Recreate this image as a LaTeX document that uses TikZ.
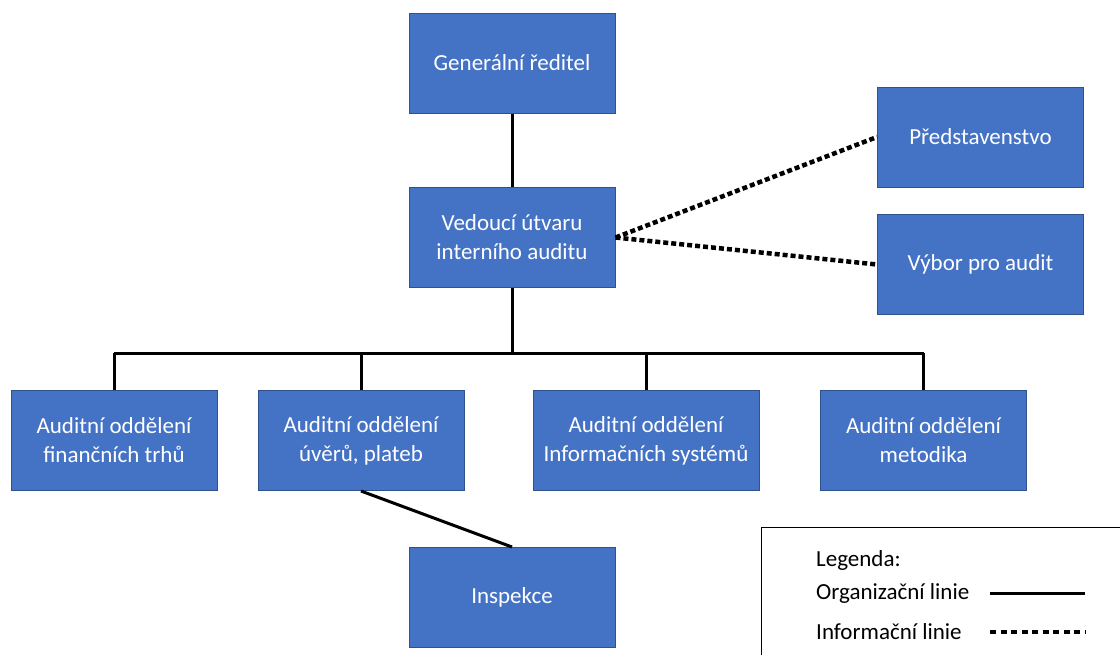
\documentclass[tikz,border=0pt]{standalone}
\usepackage{fontspec}
\setmainfont{Carlito}
\usepackage{xcolor}
\usetikzlibrary{positioning,calc}
\definecolor{boxblue}{HTML}{4472C4}
\definecolor{boxedge}{HTML}{2F528F}
\tikzset{
    unit box/.style={
        draw=boxedge,
        fill=boxblue,
        line width=1pt,
        text=white,
        align=center,
        inner sep=0pt,
        minimum height=100pt,
        minimum width =206pt,
        font=\fontsize{23}{29}\selectfont
    },
    org line/.style={
        line width=3pt
    },
    info line/.style={
        line width=4.5pt,
        dash pattern=on 5pt off 3pt
    },
    legend text/.style={
        anchor=west,
        inner sep=0pt,
        font=\fontsize{23}{27}\selectfont
    }
}
\begin{document}
\begin{tikzpicture}[x=1pt,y=-1pt]
          \useasboundingbox (0,0) rectangle (1120,654);
          \node[unit box] (gr) at (512,63) {Generální ředitel};
          \node[unit box] (vua) at (512,237.5) {Vedoucí útvaru\\interního auditu};
          \node[unit box] (pred) at (980.5,137) {Představenstvo};
          \node[unit box] (vyb) at (980.5,264.5) {Výbor pro audit};
          \node[unit box] (afin) at (114,440.5) {Auditní oddělení\\finančních trhů};
          \node[unit box] (auver) at (361,440.5) {Auditní oddělení\\úvěrů, plateb};
          \node[unit box, minimum width=226pt] (ais) at (646,440.5) {Auditní oddělení\\Informačních systémů};
          \node[unit box] (amet) at (923.5,440.5) {Auditní oddělení\\metodika};
          \node[unit box] (insp) at (512,597.5) {Inspekce};
          \coordinate (bus) at (512,353);
          \draw[org line] (gr) -- (vua);
          \draw[org line] (vua) -- (bus);
          \draw[org line] (afin.north |- bus) -- (amet.north |- bus);
          \foreach \t in {afin,auver,ais,amet}
            \draw[org line] (\t.north |- bus) -- (\t.north);
          \draw[org line] (auver.south) -- (insp.north);
          \foreach \t in {pred,vyb}
            \draw[info line] (vua.east) -- (\t.west);

            % legend
            \draw[line width=1pt] (1121,527) -- (761,527) -- (761,655);
            \node[legend text] (leg) at (816,560) {Legenda:};
            \node[legend text] (lorg) at (816,593) {Organizační linie};
            \node[legend text] (linf) at (816,632) {Informační linie};
            \coordinate (lorg a) at (990,593);
            \coordinate (lorg b) at (1085,593);
            \coordinate (linf a) at (990,632);
            \coordinate (linf b) at (1085,632);
            \draw[org line] (lorg a) -- (lorg b);
            \draw[info line, dash pattern=on 6pt off 4.5pt] (linf a) -- (linf b);
        \end{tikzpicture}
\end{document}
